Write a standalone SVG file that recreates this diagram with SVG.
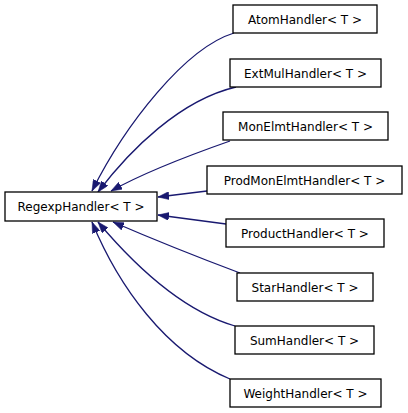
<svg xmlns="http://www.w3.org/2000/svg" width="408" height="413" viewBox="0 0 408 413">
<style>
.box{fill:#ffffff;stroke:#000000;stroke-width:1.3}
.lbl{font-family:"DejaVu Sans",sans-serif;font-size:12px;fill:#000000;text-anchor:middle}
.edge{fill:none;stroke:#191970;stroke-width:1.3}
</style>
<defs>
<marker id="ah" viewBox="0 0 11 8" refX="11" refY="4" markerUnits="userSpaceOnUse" markerWidth="11" markerHeight="8" orient="auto">
<path d="M0,0 L11,4 L0,8 z" fill="#191970" stroke="#191970" stroke-width="0.5"/>
</marker>
</defs>
<rect width="408" height="413" fill="#ffffff"/>
<g id="connectors">
<path class="edge" marker-end="url(#ah)" d="M234,33 C185,48 125,125 92,191"/>
<path class="edge" marker-end="url(#ah)" d="M236,87 C180,100 130,150 98,192"/>
<path class="edge" marker-end="url(#ah)" d="M230,141 C190,155 145,172 111,191"/>
<path class="edge" marker-end="url(#ah)" d="M207,191 L158,197"/>
<path class="edge" marker-end="url(#ah)" d="M226,224 L158,215"/>
<path class="edge" marker-end="url(#ah)" d="M240,273 C200,258 150,238 113,222"/>
<path class="edge" marker-end="url(#ah)" d="M235,326 C180,310 130,260 98,222"/>
<path class="edge" marker-end="url(#ah)" d="M230,379 C165,352 118,285 92,222"/>
</g>
<g id="RegexpHandler"><rect class="box" x="5" y="192" width="152" height="29"/><text class="lbl" x="81" y="211">RegexpHandler&lt; T &gt;</text></g>
<g id="AtomHandler"><rect class="box" x="233" y="5" width="144" height="28"/><text class="lbl" x="305" y="24">AtomHandler&lt; T &gt;</text></g>
<g id="ExtMulHandler"><rect class="box" x="230" y="59" width="151" height="28"/><text class="lbl" x="305.5" y="78">ExtMulHandler&lt; T &gt;</text></g>
<g id="MonElmtHandler"><rect class="box" x="223" y="112" width="165" height="28"/><text class="lbl" x="305.5" y="131">MonElmtHandler&lt; T &gt;</text></g>
<g id="ProdMonElmtHandler"><rect class="box" x="207" y="166" width="195" height="28"/><text class="lbl" x="304.5" y="185">ProdMonElmtHandler&lt; T &gt;</text></g>
<g id="ProductHandler"><rect class="box" x="226" y="219" width="158" height="28"/><text class="lbl" x="305" y="238">ProductHandler&lt; T &gt;</text></g>
<g id="StarHandler"><rect class="box" x="237" y="273" width="136" height="28"/><text class="lbl" x="305" y="292">StarHandler&lt; T &gt;</text></g>
<g id="SumHandler"><rect class="box" x="235" y="326" width="139" height="28"/><text class="lbl" x="304.5" y="345">SumHandler&lt; T &gt;</text></g>
<g id="WeightHandler"><rect class="box" x="230" y="379" width="151" height="28"/><text class="lbl" x="305.5" y="398">WeightHandler&lt; T &gt;</text></g>
</svg>
